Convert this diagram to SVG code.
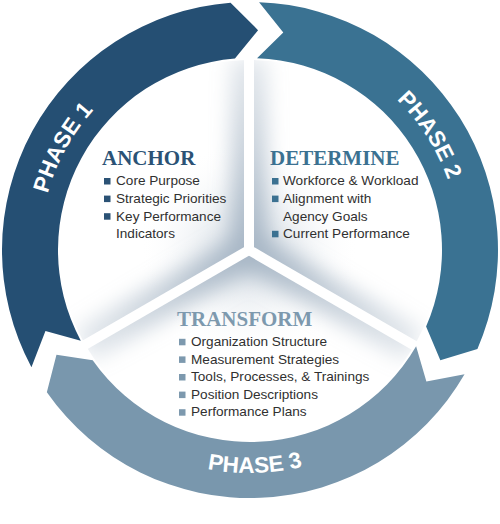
<svg xmlns="http://www.w3.org/2000/svg" width="500" height="524" viewBox="0 0 500 524">
<style>
.p1{fill:#254f73}
.p2{fill:#3a7292}
.p3{fill:#7997ad}
.lbl{font-family:"Liberation Sans",Arial,sans-serif;font-weight:bold;font-size:22.5px;fill:#ffffff}
.hd{font-family:"Liberation Serif","Times New Roman",serif;font-weight:bold;font-size:21px}
.it{font-family:"Liberation Sans",Arial,sans-serif;font-size:13.6px;fill:#303030}
.c1{fill:#2b5275}
.c2{fill:#3b7191}
.c3{fill:#7d99ae}
.div{stroke:#ffffff;stroke-width:10;fill:none}
.shade{stroke-width:36;fill:none}
</style>
<defs>
<filter id="soft" x="-50%" y="-50%" width="200%" height="200%"><feGaussianBlur stdDeviation="10"/></filter>
<clipPath id="disk"><circle cx="250" cy="250" r="190"/></clipPath>
<linearGradient id="gUp" gradientUnits="userSpaceOnUse" x1="249" y1="250" x2="249" y2="58"><stop offset="0" stop-color="#a8b7c6"/><stop offset="1" stop-color="#a8b7c6" stop-opacity="0.3"/></linearGradient>
<linearGradient id="gLL" gradientUnits="userSpaceOnUse" x1="249" y1="250" x2="83" y2="346"><stop offset="0" stop-color="#a8b7c6"/><stop offset="1" stop-color="#a8b7c6" stop-opacity="0.3"/></linearGradient>
<linearGradient id="gLR" gradientUnits="userSpaceOnUse" x1="249" y1="250" x2="415" y2="346"><stop offset="0" stop-color="#a8b7c6"/><stop offset="1" stop-color="#a8b7c6" stop-opacity="0.3"/></linearGradient>
<radialGradient id="gC" gradientUnits="userSpaceOnUse" cx="249" cy="250" r="110"><stop offset="0" stop-color="#b9c6d2" stop-opacity="0.8"/><stop offset="1" stop-color="#ffffff" stop-opacity="0"/></radialGradient>
<path id="arc1" d="M 44.07 291.15 A 210 210 0 0 1 173.72 54.35"/>
<path id="arc2" d="M 312.80 49.61 A 210 210 0 0 1 458.25 277.05"/>
<path id="arc3" d="M 110.57 424.04 A 223 223 0 0 0 397.28 417.45"/>
</defs>
<rect width="500" height="524" fill="#ffffff"/>

<g id="center-shading" clip-path="url(#disk)">
<circle cx="249" cy="250" r="110" fill="url(#gC)"/>
<g filter="url(#soft)">
<line class="shade" x1="249" y1="250" x2="249" y2="58" stroke="url(#gUp)"/>
<line class="shade" x1="249" y1="250" x2="83" y2="346" stroke="url(#gLL)"/>
<line class="shade" x1="249" y1="250" x2="415" y2="346" stroke="url(#gLR)"/>
</g>
</g>

<g id="connectors">
<line class="div" x1="249" y1="250" x2="249" y2="50"/>
<line class="div" x1="249" y1="250" x2="76" y2="350"/>
<line class="div" x1="249" y1="250" x2="422" y2="350"/>
</g>

<g id="phase1">
<path class="p1" d="M 31.44 367.19 A 248 248 0 0 1 230.54 2.76 L 258.06 30.15 L 234.94 58.59 A 192 192 0 0 0 80.79 340.73 L 45.45 330.99 Z"/>
<text class="lbl"><textPath href="#arc1" startOffset="50%" text-anchor="middle">PHASE 1</textPath></text>
</g>
<g id="phase2">
<path class="p2" d="M 259.09 2.17 A 248 248 0 0 1 477.43 348.89 L 440.33 360.33 L 426.08 326.56 A 192 192 0 0 0 257.04 58.13 L 283.28 32.53 Z"/>
<text class="lbl"><textPath href="#arc2" startOffset="50%" text-anchor="middle">PHASE 2</textPath></text>
</g>
<g id="phase3">
<path class="p3" d="M 464.56 374.37 A 248 248 0 0 1 46.85 392.25 L 56.48 354.64 L 92.72 360.13 A 192 192 0 0 0 416.11 346.29 L 426.39 381.48 Z"/>
<text class="lbl"><textPath href="#arc3" startOffset="50%" text-anchor="middle">PHASE 3</textPath></text>
</g>

<g id="anchor">
<text class="hd c1" x="102" y="165">ANCHOR</text>
<rect class="c1" x="104" y="178" width="6.5" height="6.5"/>
<rect class="c1" x="104" y="195.6" width="6.5" height="6.5"/>
<rect class="c1" x="104" y="213.2" width="6.5" height="6.5"/>
<text class="it" x="116" y="185.3">Core Purpose</text>
<text class="it" x="116" y="202.9">Strategic Priorities</text>
<text class="it" x="116" y="220.5">Key Performance</text>
<text class="it" x="116" y="238.1">Indicators</text>
</g>

<g id="determine">
<text class="hd c2" x="270" y="165">DETERMINE</text>
<rect class="c2" x="272" y="178" width="6.5" height="6.5"/>
<rect class="c2" x="272" y="195.6" width="6.5" height="6.5"/>
<rect class="c2" x="272" y="230.8" width="6.5" height="6.5"/>
<text class="it" x="283" y="185.3">Workforce &amp; Workload</text>
<text class="it" x="283" y="202.9">Alignment with</text>
<text class="it" x="283" y="220.5">Agency Goals</text>
<text class="it" x="283" y="238.1">Current Performance</text>
</g>

<g id="transform">
<text class="hd c3" x="177" y="326">TRANSFORM</text>
<rect class="c3" x="179" y="338.8" width="6.5" height="6.5"/>
<rect class="c3" x="179" y="356.4" width="6.5" height="6.5"/>
<rect class="c3" x="179" y="374" width="6.5" height="6.5"/>
<rect class="c3" x="179" y="391.6" width="6.5" height="6.5"/>
<rect class="c3" x="179" y="409.2" width="6.5" height="6.5"/>
<text class="it" x="191" y="346">Organization Structure</text>
<text class="it" x="191" y="363.6">Measurement Strategies</text>
<text class="it" x="191" y="381.2">Tools, Processes, &amp; Trainings</text>
<text class="it" x="191" y="398.8">Position Descriptions</text>
<text class="it" x="191" y="416.4">Performance Plans</text>
</g>
</svg>
